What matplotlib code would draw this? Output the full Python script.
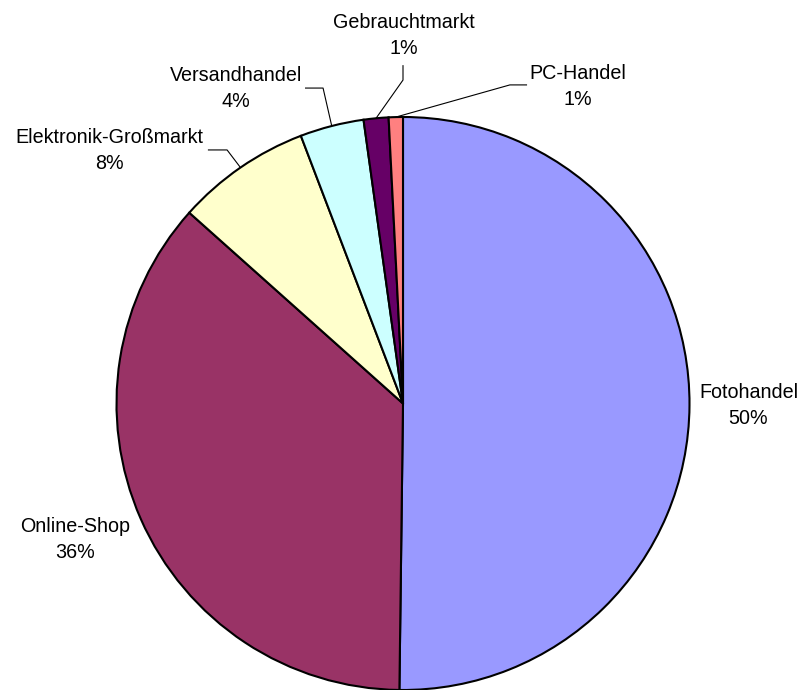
import matplotlib
matplotlib.use("Agg")
import matplotlib.pyplot as plt
import numpy as np

categories = ["Fotohandel", "Online-Shop", "Elektronik-Großmarkt", "Versandhandel", "Gebrauchtmarkt", "PC-Handel"]
shares = [50.2, 36.4, 7.6, 3.6, 1.4, 0.8]
colors = ["#9999FF", "#993366", "#FFFFCC", "#CCFFFF", "#660066", "#FF8080"]

# label layout (data units, radius = 1): label block centre, optional leader path
label_pos = [(1.206, 0.0), (-1.143, -0.467), (-1.024, 0.889), (-0.582, 1.106), (0.002, 1.29), (0.610, 1.115)]
leader_pts = [None, None,
              [(-0.614, 0.885), (-0.681, 0.885)],
              [(-0.279, 1.101), (-0.342, 1.101)],
              [(0.0, 1.129), (0.0, 1.181)],
              [(0.373, 1.112), (0.433, 1.112)]]

plt.rcParams['font.family'] = ['Liberation Sans', 'DejaVu Sans']

W, H = 805, 690
cx, cy, R = 403.0, 403.5, 286.5
fig = plt.figure(figsize=(W / 100, H / 100), dpi=100)
ax = fig.add_axes([0, 0, 1, 1])

wedges, _ = ax.pie(shares, colors=colors, startangle=90, counterclock=False,
                   radius=1.0, center=(0, 0),
                   wedgeprops=dict(edgecolor='black', linewidth=1.5), frame=True)
ax.set_xlim(-cx / R, (W - cx) / R)
ax.set_ylim(-(H - cy) / R, cy / R)
ax.set_aspect('equal')
ax.axis('off')

total = sum(shares)
fs = 14.2
dy = 13.0 / R
for i, (w, name, val) in enumerate(zip(wedges, categories, shares)):
    lx, ly = label_pos[i]
    pct = int(round(val / total * 100))
    ax.text(lx, ly + dy, name, ha='center', va='center_baseline', fontsize=fs, color='black')
    ax.text(lx, ly - dy, f"{pct}%", ha='center', va='center_baseline', fontsize=fs, color='black')
    if leader_pts[i] is not None:
        mid = np.deg2rad((w.theta1 + w.theta2) / 2)
        ax_pt = (np.cos(mid), np.sin(mid))
        pts = [ax_pt] + leader_pts[i]
        xs = [p[0] for p in pts]
        ys = [p[1] for p in pts]
        ax.plot(xs, ys, color='black', linewidth=0.8, solid_capstyle='butt')

fig.savefig("out.png", dpi=100)
